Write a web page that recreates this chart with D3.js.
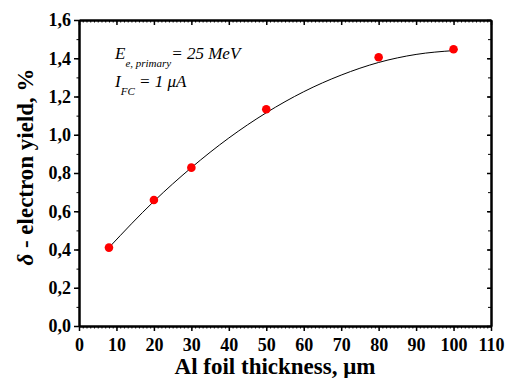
<!DOCTYPE html>
<html lang="en">
<head>
  <meta charset="UTF-8">
  <title>Delta electron yield vs Al foil thickness</title>
  <script src="https://d3js.org/d3.v7.min.js"></script>
  <style>
    body { margin: 0; background: #fff; }
    .axis path { stroke: #000; stroke-width: 2px; }
    .axis line { stroke: #000; stroke-width: 1.5px; }
    .minor line { stroke-width: 1px; }
  </style>
</head>
<body>
  <svg width="508" height="378"></svg>
  <script>
    // measured points
    const thickness = [8, 20, 30, 50, 80, 100];
    const yieldPct = [0.41, 0.659, 0.828, 1.133, 1.405, 1.447];

    // fit curve
    const fitX = [8, 20, 30, 40, 50, 60, 70, 80, 90, 100];
    const fitY = [0.41, 0.652, 0.828, 0.983, 1.115, 1.225, 1.312, 1.378, 1.42, 1.44];

    const xTicks = [0, 10, 20, 30, 40, 50, 60, 70, 80, 90, 100, 110];
    const yTicks = [0, 0.2, 0.4, 0.6, 0.8, 1.0, 1.2, 1.4, 1.6];

    const FONT = "\"Liberation Serif\"";

    const svg = d3.select("svg");
    const margin = { left: 79, right: 17, top: 20, bottom: 52 };
    const width = 508, height = 378;

    const x = d3.scaleLinear().domain([0, 110]).range([margin.left, width - margin.right]);
    const y = d3.scaleLinear().domain([0, 1.6]).range([height - margin.bottom, margin.top]);

    const locale = d3.formatLocale({ decimal: ",", thousands: ".", grouping: [3], currency: ["", ""] });
    const fmtY = locale.format(".1f");

    const xMinor = d3.range(0, 111, 1);
    const yMinor = d3.range(0, 17).map(i => i / 10);

    const plotBottom = height - margin.bottom;
    const plotRight = width - margin.right;

    // minor ticks first, so the main axes sit on top
    svg.append("g").attr("class", "axis minor")
      .attr("transform", `translate(0,${plotBottom})`)
      .call(d3.axisBottom(x).tickValues(xMinor).tickSize(2.5).tickSizeOuter(0).tickFormat(""));
    svg.append("g").attr("class", "axis minor")
      .attr("transform", `translate(0,${margin.top})`)
      .call(d3.axisTop(x).tickValues(xMinor).tickSize(-2.5).tickSizeOuter(0).tickFormat(""));
    svg.append("g").attr("class", "axis minor")
      .attr("transform", `translate(${margin.left},0)`)
      .call(d3.axisLeft(y).tickValues(yMinor).tickSize(2.5).tickSizeOuter(0).tickFormat(""));
    svg.append("g").attr("class", "axis minor")
      .attr("transform", `translate(${plotRight},0)`)
      .call(d3.axisRight(y).tickValues(yMinor).tickSize(-3).tickSizeOuter(0).tickFormat(""));

    // major axes
    const xAxisG = svg.append("g").attr("class", "axis")
      .attr("transform", `translate(0,${plotBottom})`)
      .call(d3.axisBottom(x).tickValues(xTicks).tickSize(5).tickSizeOuter(0).tickPadding(7));
    svg.append("g").attr("class", "axis")
      .attr("transform", `translate(0,${margin.top})`)
      .call(d3.axisTop(x).tickValues(xTicks).tickSize(-5).tickSizeOuter(0).tickFormat(""));
    const yAxisG = svg.append("g").attr("class", "axis")
      .attr("transform", `translate(${margin.left},0)`)
      .call(d3.axisLeft(y).tickValues(yTicks).tickSize(5).tickSizeOuter(0).tickPadding(3).tickFormat(fmtY));
    svg.append("g").attr("class", "axis")
      .attr("transform", `translate(${plotRight},0)`)
      .call(d3.axisRight(y).tickValues(yTicks).tickSize(-4).tickSizeOuter(0).tickFormat(""));

    // d3 puts font attributes on the axis group; override them on the labels
    [xAxisG, yAxisG].forEach(g => {
      g.attr("font-family", null).attr("font-size", null);
      g.selectAll("text")
        .style("font-family", FONT)
        .style("font-size", "18px")
        .style("font-weight", "bold")
        .attr("fill", "#000");
    });

    // fit line
    const line = d3.line().x((d, i) => x(fitX[i])).y(d => y(d)).curve(d3.curveMonotoneX);
    svg.append("path")
      .datum(fitY)
      .attr("fill", "none")
      .attr("stroke", "#000")
      .attr("stroke-width", 1)
      .attr("d", line);

    // points
    svg.selectAll("circle.pt")
      .data(thickness)
      .join("circle")
      .attr("class", "pt")
      .attr("cx", d => x(d))
      .attr("cy", (d, i) => y(yieldPct[i]))
      .attr("r", 4.3)
      .attr("fill", "#ff0000");

    // annotation
    const n1 = svg.append("text").attr("x", 115).attr("y", 59);
    n1.append("tspan").text("E");
    n1.append("tspan").attr("dy", 8).style("font-size", "11px").text("e, primary");
    n1.append("tspan").attr("dy", -8).text("= 25 MeV");

    const n2 = svg.append("text").attr("x", 115).attr("y", 87);
    n2.append("tspan").text("I");
    n2.append("tspan").attr("dy", 8).style("font-size", "11px").text("FC");
    n2.append("tspan").attr("dy", -8).text(" = 1 \u03bcA");

    [n1, n2].forEach(t => t
      .style("font-family", FONT)
      .style("font-size", "17px")
      .style("font-style", "italic"));

    // axis titles
    const xt = svg.append("text")
      .attr("x", 275)
      .attr("y", 374)
      .attr("text-anchor", "middle")
      .text("Al foil thickness, \u03bcm");

    const yt = svg.append("text")
      .attr("transform", "translate(33,167) rotate(-90)")
      .attr("text-anchor", "middle");
    yt.append("tspan").style("font-style", "italic").text("\u03b4");
    yt.append("tspan").text(" - electron yield, %");

    [xt, yt].forEach(t => t
      .style("font-family", FONT)
      .style("font-size", "23px")
      .style("font-weight", "bold"));
  </script>
</body>
</html>
